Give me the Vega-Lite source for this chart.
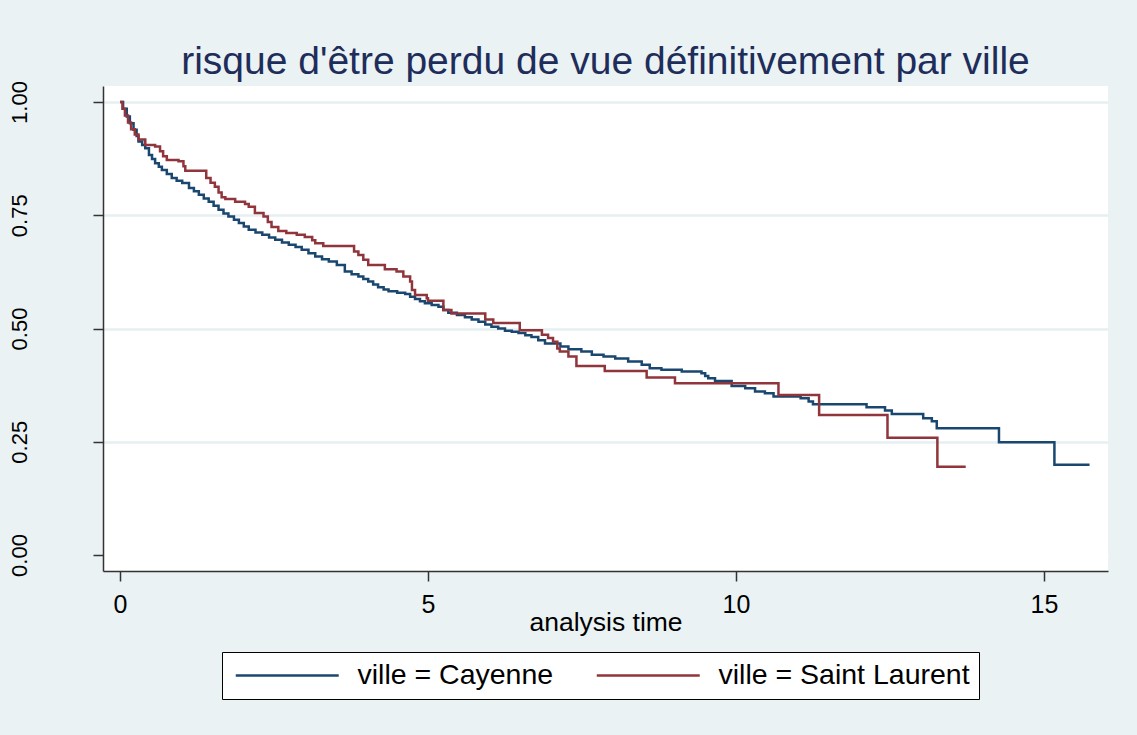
{
  "$schema": "https://vega.github.io/schema/vega-lite/v6.json",
  "autosize": {"type": "none"},
  "padding": {"left": 103, "top": 86, "right": 29, "bottom": 164},
  "width": 1005,
  "height": 485,
  "background": "#EAF2F3",
  "title": {
    "text": "risque d'être perdu de vue définitivement par ville",
    "font": "Liberation Sans",
    "fontSize": 39,
    "fontWeight": "normal",
    "color": "#1E2D5A",
    "anchor": "middle",
    "baseline": "alphabetic",
    "offset": 12,
    "dy": 44
  },
  "config": {
    "view": {"fill": "white", "stroke": null},
    "axis": {
      "labelFont": "Liberation Sans",
      "titleFont": "Liberation Sans",
      "labelColor": "black",
      "titleColor": "black",
      "domainColor": "#333333",
      "domainWidth": 1.5,
      "tickColor": "#333333",
      "tickWidth": 1.5,
      "tickSize": 10
    }
  },
  "data": {
    "values": [
      {"ville": "Cayenne", "t": 0, "s": 1.0},
      {"ville": "Cayenne", "t": 0.05, "s": 0.985},
      {"ville": "Cayenne", "t": 0.11, "s": 0.968},
      {"ville": "Cayenne", "t": 0.16, "s": 0.953},
      {"ville": "Cayenne", "t": 0.22, "s": 0.939},
      {"ville": "Cayenne", "t": 0.27, "s": 0.925},
      {"ville": "Cayenne", "t": 0.30, "s": 0.913},
      {"ville": "Cayenne", "t": 0.36, "s": 0.905},
      {"ville": "Cayenne", "t": 0.41, "s": 0.898},
      {"ville": "Cayenne", "t": 0.47, "s": 0.883},
      {"ville": "Cayenne", "t": 0.52, "s": 0.874},
      {"ville": "Cayenne", "t": 0.57, "s": 0.865},
      {"ville": "Cayenne", "t": 0.63, "s": 0.857},
      {"ville": "Cayenne", "t": 0.68, "s": 0.850},
      {"ville": "Cayenne", "t": 0.76, "s": 0.841},
      {"ville": "Cayenne", "t": 0.84, "s": 0.832},
      {"ville": "Cayenne", "t": 0.92, "s": 0.826},
      {"ville": "Cayenne", "t": 1.01, "s": 0.821},
      {"ville": "Cayenne", "t": 1.12, "s": 0.810},
      {"ville": "Cayenne", "t": 1.20, "s": 0.803},
      {"ville": "Cayenne", "t": 1.28, "s": 0.795},
      {"ville": "Cayenne", "t": 1.36, "s": 0.787},
      {"ville": "Cayenne", "t": 1.44, "s": 0.780},
      {"ville": "Cayenne", "t": 1.52, "s": 0.771},
      {"ville": "Cayenne", "t": 1.60, "s": 0.762},
      {"ville": "Cayenne", "t": 1.68, "s": 0.754},
      {"ville": "Cayenne", "t": 1.76, "s": 0.747},
      {"ville": "Cayenne", "t": 1.85, "s": 0.740},
      {"ville": "Cayenne", "t": 1.93, "s": 0.733},
      {"ville": "Cayenne", "t": 2.01, "s": 0.725},
      {"ville": "Cayenne", "t": 2.09, "s": 0.718},
      {"ville": "Cayenne", "t": 2.20, "s": 0.712},
      {"ville": "Cayenne", "t": 2.31, "s": 0.707},
      {"ville": "Cayenne", "t": 2.42, "s": 0.701},
      {"ville": "Cayenne", "t": 2.52, "s": 0.696},
      {"ville": "Cayenne", "t": 2.63, "s": 0.690},
      {"ville": "Cayenne", "t": 2.74, "s": 0.685},
      {"ville": "Cayenne", "t": 2.85, "s": 0.680},
      {"ville": "Cayenne", "t": 2.95, "s": 0.674},
      {"ville": "Cayenne", "t": 3.06, "s": 0.666},
      {"ville": "Cayenne", "t": 3.17, "s": 0.659},
      {"ville": "Cayenne", "t": 3.28, "s": 0.653},
      {"ville": "Cayenne", "t": 3.39, "s": 0.648},
      {"ville": "Cayenne", "t": 3.52, "s": 0.640},
      {"ville": "Cayenne", "t": 3.65, "s": 0.626},
      {"ville": "Cayenne", "t": 3.76, "s": 0.620},
      {"ville": "Cayenne", "t": 3.87, "s": 0.615},
      {"ville": "Cayenne", "t": 3.95, "s": 0.609},
      {"ville": "Cayenne", "t": 4.03, "s": 0.604},
      {"ville": "Cayenne", "t": 4.11, "s": 0.597},
      {"ville": "Cayenne", "t": 4.19, "s": 0.591},
      {"ville": "Cayenne", "t": 4.28, "s": 0.586},
      {"ville": "Cayenne", "t": 4.36, "s": 0.582},
      {"ville": "Cayenne", "t": 4.50, "s": 0.579},
      {"ville": "Cayenne", "t": 4.63, "s": 0.576},
      {"ville": "Cayenne", "t": 4.71, "s": 0.570},
      {"ville": "Cayenne", "t": 4.79, "s": 0.565},
      {"ville": "Cayenne", "t": 4.87, "s": 0.560},
      {"ville": "Cayenne", "t": 4.95, "s": 0.556},
      {"ville": "Cayenne", "t": 5.06, "s": 0.552},
      {"ville": "Cayenne", "t": 5.17, "s": 0.548},
      {"ville": "Cayenne", "t": 5.25, "s": 0.541},
      {"ville": "Cayenne", "t": 5.33, "s": 0.535},
      {"ville": "Cayenne", "t": 5.47, "s": 0.530},
      {"ville": "Cayenne", "t": 5.60, "s": 0.525},
      {"ville": "Cayenne", "t": 5.71, "s": 0.520},
      {"ville": "Cayenne", "t": 5.82, "s": 0.515},
      {"ville": "Cayenne", "t": 5.93, "s": 0.509},
      {"ville": "Cayenne", "t": 6.03, "s": 0.504},
      {"ville": "Cayenne", "t": 6.14, "s": 0.500},
      {"ville": "Cayenne", "t": 6.25, "s": 0.495},
      {"ville": "Cayenne", "t": 6.36, "s": 0.493},
      {"ville": "Cayenne", "t": 6.47, "s": 0.490},
      {"ville": "Cayenne", "t": 6.58, "s": 0.485},
      {"ville": "Cayenne", "t": 6.68, "s": 0.481},
      {"ville": "Cayenne", "t": 6.79, "s": 0.474},
      {"ville": "Cayenne", "t": 6.90, "s": 0.467},
      {"ville": "Cayenne", "t": 7.15, "s": 0.460},
      {"ville": "Cayenne", "t": 7.28, "s": 0.454},
      {"ville": "Cayenne", "t": 7.49, "s": 0.449},
      {"ville": "Cayenne", "t": 7.66, "s": 0.442},
      {"ville": "Cayenne", "t": 7.85, "s": 0.438},
      {"ville": "Cayenne", "t": 8.04, "s": 0.434},
      {"ville": "Cayenne", "t": 8.25, "s": 0.427},
      {"ville": "Cayenne", "t": 8.47, "s": 0.420},
      {"ville": "Cayenne", "t": 8.60, "s": 0.412},
      {"ville": "Cayenne", "t": 8.79, "s": 0.409},
      {"ville": "Cayenne", "t": 9.12, "s": 0.405},
      {"ville": "Cayenne", "t": 9.44, "s": 0.401},
      {"ville": "Cayenne", "t": 9.50, "s": 0.395},
      {"ville": "Cayenne", "t": 9.55, "s": 0.390},
      {"ville": "Cayenne", "t": 9.66, "s": 0.384},
      {"ville": "Cayenne", "t": 9.93, "s": 0.373},
      {"ville": "Cayenne", "t": 10.15, "s": 0.368},
      {"ville": "Cayenne", "t": 10.31, "s": 0.361},
      {"ville": "Cayenne", "t": 10.47, "s": 0.357},
      {"ville": "Cayenne", "t": 10.61, "s": 0.350},
      {"ville": "Cayenne", "t": 11.05, "s": 0.346},
      {"ville": "Cayenne", "t": 11.18, "s": 0.339},
      {"ville": "Cayenne", "t": 11.25, "s": 0.333},
      {"ville": "Cayenne", "t": 12.12, "s": 0.326},
      {"ville": "Cayenne", "t": 12.42, "s": 0.319},
      {"ville": "Cayenne", "t": 12.53, "s": 0.311},
      {"ville": "Cayenne", "t": 13.04, "s": 0.302},
      {"ville": "Cayenne", "t": 13.18, "s": 0.295},
      {"ville": "Cayenne", "t": 13.26, "s": 0.280},
      {"ville": "Cayenne", "t": 14.27, "s": 0.249},
      {"ville": "Cayenne", "t": 15.17, "s": 0.199},
      {"ville": "Cayenne", "t": 15.74, "s": 0.199},
      {"ville": "Saint Laurent", "t": 0, "s": 1.0},
      {"ville": "Saint Laurent", "t": 0.04, "s": 0.985},
      {"ville": "Saint Laurent", "t": 0.08, "s": 0.970},
      {"ville": "Saint Laurent", "t": 0.13, "s": 0.955},
      {"ville": "Saint Laurent", "t": 0.18, "s": 0.940},
      {"ville": "Saint Laurent", "t": 0.24, "s": 0.928},
      {"ville": "Saint Laurent", "t": 0.30, "s": 0.917},
      {"ville": "Saint Laurent", "t": 0.41, "s": 0.905},
      {"ville": "Saint Laurent", "t": 0.57, "s": 0.902},
      {"ville": "Saint Laurent", "t": 0.65, "s": 0.891},
      {"ville": "Saint Laurent", "t": 0.70, "s": 0.880},
      {"ville": "Saint Laurent", "t": 0.76, "s": 0.872},
      {"ville": "Saint Laurent", "t": 0.95, "s": 0.869},
      {"ville": "Saint Laurent", "t": 1.03, "s": 0.858},
      {"ville": "Saint Laurent", "t": 1.06, "s": 0.848},
      {"ville": "Saint Laurent", "t": 1.40, "s": 0.832},
      {"ville": "Saint Laurent", "t": 1.47, "s": 0.822},
      {"ville": "Saint Laurent", "t": 1.54, "s": 0.813},
      {"ville": "Saint Laurent", "t": 1.60, "s": 0.800},
      {"ville": "Saint Laurent", "t": 1.65, "s": 0.790},
      {"ville": "Saint Laurent", "t": 1.71, "s": 0.786},
      {"ville": "Saint Laurent", "t": 1.87, "s": 0.780},
      {"ville": "Saint Laurent", "t": 2.03, "s": 0.775},
      {"ville": "Saint Laurent", "t": 2.09, "s": 0.769},
      {"ville": "Saint Laurent", "t": 2.19, "s": 0.755},
      {"ville": "Saint Laurent", "t": 2.33, "s": 0.747},
      {"ville": "Saint Laurent", "t": 2.40, "s": 0.735},
      {"ville": "Saint Laurent", "t": 2.46, "s": 0.724},
      {"ville": "Saint Laurent", "t": 2.57, "s": 0.715},
      {"ville": "Saint Laurent", "t": 2.70, "s": 0.711},
      {"ville": "Saint Laurent", "t": 2.87, "s": 0.707},
      {"ville": "Saint Laurent", "t": 3.00, "s": 0.702},
      {"ville": "Saint Laurent", "t": 3.12, "s": 0.695},
      {"ville": "Saint Laurent", "t": 3.17, "s": 0.688},
      {"ville": "Saint Laurent", "t": 3.30, "s": 0.682},
      {"ville": "Saint Laurent", "t": 3.80, "s": 0.670},
      {"ville": "Saint Laurent", "t": 3.87, "s": 0.662},
      {"ville": "Saint Laurent", "t": 3.95, "s": 0.652},
      {"ville": "Saint Laurent", "t": 4.03, "s": 0.640},
      {"ville": "Saint Laurent", "t": 4.30, "s": 0.631},
      {"ville": "Saint Laurent", "t": 4.49, "s": 0.626},
      {"ville": "Saint Laurent", "t": 4.60, "s": 0.615},
      {"ville": "Saint Laurent", "t": 4.71, "s": 0.604},
      {"ville": "Saint Laurent", "t": 4.74, "s": 0.585},
      {"ville": "Saint Laurent", "t": 4.79, "s": 0.574},
      {"ville": "Saint Laurent", "t": 4.98, "s": 0.567},
      {"ville": "Saint Laurent", "t": 5.00, "s": 0.561},
      {"ville": "Saint Laurent", "t": 5.25, "s": 0.541},
      {"ville": "Saint Laurent", "t": 5.38, "s": 0.533},
      {"ville": "Saint Laurent", "t": 5.93, "s": 0.520},
      {"ville": "Saint Laurent", "t": 6.06, "s": 0.512},
      {"ville": "Saint Laurent", "t": 6.49, "s": 0.496},
      {"ville": "Saint Laurent", "t": 6.85, "s": 0.486},
      {"ville": "Saint Laurent", "t": 6.95, "s": 0.479},
      {"ville": "Saint Laurent", "t": 7.03, "s": 0.471},
      {"ville": "Saint Laurent", "t": 7.10, "s": 0.456},
      {"ville": "Saint Laurent", "t": 7.14, "s": 0.449},
      {"ville": "Saint Laurent", "t": 7.28, "s": 0.438},
      {"ville": "Saint Laurent", "t": 7.41, "s": 0.417},
      {"ville": "Saint Laurent", "t": 7.87, "s": 0.406},
      {"ville": "Saint Laurent", "t": 8.55, "s": 0.392},
      {"ville": "Saint Laurent", "t": 9.01, "s": 0.379},
      {"ville": "Saint Laurent", "t": 10.69, "s": 0.353},
      {"ville": "Saint Laurent", "t": 11.35, "s": 0.309},
      {"ville": "Saint Laurent", "t": 12.46, "s": 0.259},
      {"ville": "Saint Laurent", "t": 13.27, "s": 0.195},
      {"ville": "Saint Laurent", "t": 13.73, "s": 0.195}
    ]
  },
  "mark": {"type": "line", "interpolate": "step-after", "strokeWidth": 2.5},
  "encoding": {
    "x": {
      "field": "t",
      "type": "quantitative",
      "scale": {"domain": [-0.276, 16.04], "nice": false, "zero": false},
      "axis": {
        "values": [0, 5, 10, 15],
        "title": "analysis time",
        "titleFontSize": 26.5,
        "titleFontWeight": "normal",
        "titleBaseline": "alphabetic",
        "titleY": 59,
        "labelFontSize": 25,
        "labelPadding": 11,
        "grid": false
      }
    },
    "y": {
      "field": "s",
      "type": "quantitative",
      "scale": {"domain": [-0.0353, 1.0353], "nice": false, "zero": false},
      "axis": {
        "values": [0, 0.25, 0.5, 0.75, 1],
        "format": ".2f",
        "title": null,
        "labelFontSize": 22,
        "labelAngle": 270,
        "labelAlign": "center",
        "labelBaseline": "alphabetic",
        "labelPadding": 67,
        "grid": true,
        "gridColor": {"condition": {"test": "datum.value === 0", "value": "white"}, "value": "#E6EFF1"},
        "gridWidth": 2.5
      }
    },
    "color": {
      "field": "ville",
      "type": "nominal",
      "scale": {"domain": ["Cayenne", "Saint Laurent"], "range": ["#1A476F", "#90353B"]},
      "legend": {
        "title": null,
        "orient": "none",
        "legendX": 119,
        "legendY": 566,
        "direction": "horizontal",
        "strokeColor": "black",
        "fillColor": "white",
        "padding": 9,
        "symbolType": "M-10,0H10",
        "symbolSize": 106,
        "symbolOffset": 42,
        "symbolStrokeWidth": 2.5,
        "labelFont": "Liberation Sans",
        "labelFontSize": 28.5,
        "labelColor": "black",
        "labelOffset": 56,
        "columnPadding": 37,
        "labelLimit": 0,
        "labelExpr": "'ville = ' + datum.label"
      }
    }
  }
}
